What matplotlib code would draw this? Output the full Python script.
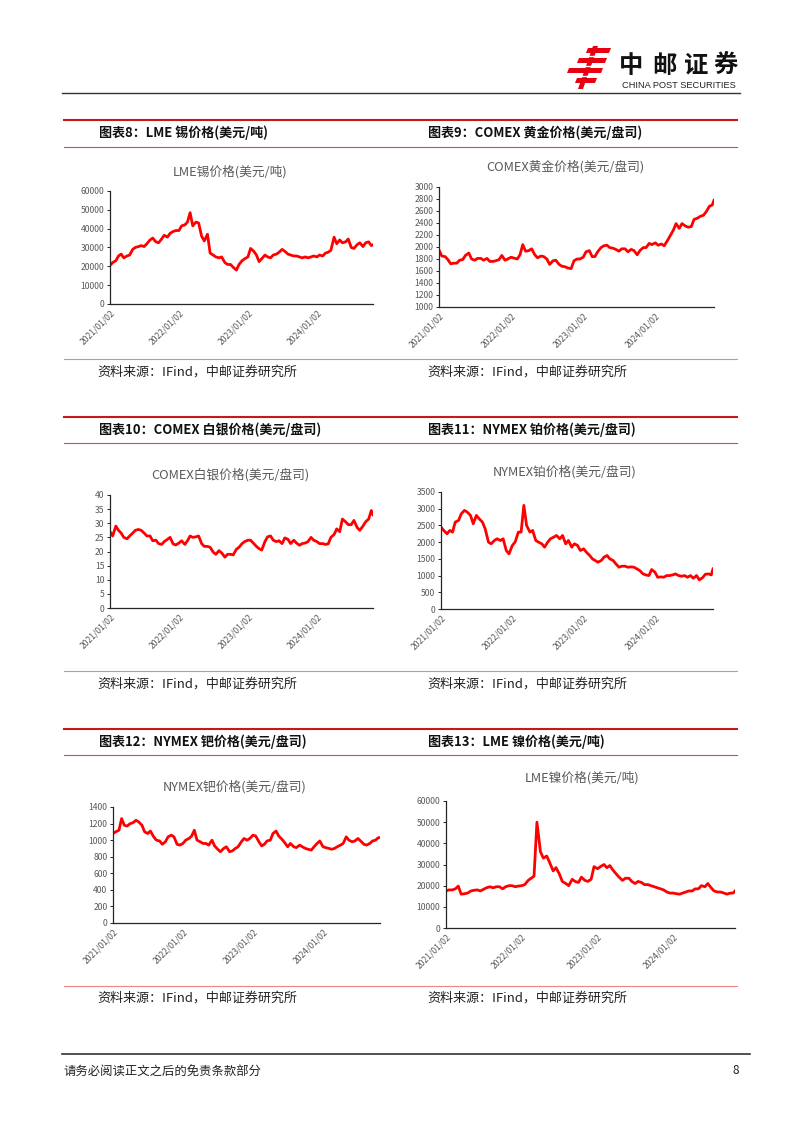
import numpy as np
import pandas as pd
import matplotlib
matplotlib.use('Agg')
import matplotlib.pyplot as plt
from matplotlib.lines import Line2D
from matplotlib.patches import Polygon

plt.rcParams['font.family'] = ['Noto Sans CJK SC', 'DejaVu Sans']

# semi-monthly sample dates, 2021/01 .. 2024/10, plus last trading day shown
dates = [f'{y}-{m:02d}-{d:02d}' for y in range(2021, 2025) for m in range(1, 13)
         for d in (2, 16) if not (y == 2024 and m > 10)] + ['2024-10-25']
tick_dates = ['2021-01-02', '2022-01-02', '2023-01-02', '2024-01-02']
tick_labels = ['2021/01/02', '2022/01/02', '2023/01/02', '2024/01/02']

# LME tin, USD/t
tin = ([20500, 22000, 23000, 25500, 26500, 24500, 25500, 26000, 29000, 30000, 30500, 31000,
        30500, 32000, 34000, 35000, 33000, 32500, 34500, 36500, 35500, 37500, 38500, 39000] +
       [39000, 41500, 42000, 43500, 48500, 41500, 43500, 43000, 36000, 33500, 37000, 27000,
        26000, 25000, 24500, 25000, 22000, 21000, 21000, 19500, 18000, 21000, 23000, 24000] +
       [25000, 29500, 28000, 26000, 22500, 24000, 26000, 25000, 24500, 26000, 26500, 27500,
        29000, 28000, 26500, 26000, 25500, 25500, 25000, 24500, 25000, 24500, 25000, 25500] +
       [25000, 26000, 25500, 27000, 27500, 28500, 35500, 32000, 34000, 32500, 33000, 34500,
        30000, 29500, 31500, 32500, 30500, 32500, 33000, 31000, 31500])

# COMEX gold, USD/oz
gold = ([1950, 1850, 1840, 1790, 1720, 1730, 1730, 1780, 1790, 1860, 1900, 1800,
         1780, 1810, 1810, 1780, 1810, 1760, 1760, 1770, 1790, 1860, 1780, 1800] +
        [1830, 1815, 1800, 1870, 2040, 1930, 1940, 1970, 1870, 1820, 1850, 1840,
         1800, 1710, 1770, 1780, 1710, 1680, 1670, 1650, 1640, 1770, 1800, 1800] +
        [1830, 1920, 1940, 1840, 1840, 1920, 1990, 2020, 2030, 1990, 1980, 1960,
         1930, 1970, 1970, 1920, 1960, 1940, 1870, 1940, 1990, 1990, 2060, 2040] +
        [2070, 2030, 2050, 2020, 2100, 2180, 2280, 2390, 2310, 2390, 2350, 2330,
         2340, 2460, 2480, 2510, 2530, 2590, 2680, 2700, 2780])

# COMEX silver, USD/oz
silver = ([27.0, 25.5, 29.0, 27.5, 26.5, 25.0, 24.5, 25.5, 26.5, 27.5, 27.8, 27.5,
           26.5, 25.5, 25.5, 23.8, 24.0, 22.8, 22.5, 23.5, 24.3, 25.0, 22.7, 22.3] +
          [23.0, 23.8, 22.5, 23.8, 25.5, 25.0, 25.2, 25.5, 22.8, 21.8, 21.8, 21.5,
           19.8, 19.0, 20.3, 19.5, 18.0, 19.0, 19.0, 18.8, 20.8, 21.5, 22.8, 23.5] +
          [24.0, 24.0, 22.8, 21.8, 21.0, 20.5, 23.5, 25.2, 25.5, 24.0, 23.5, 23.8,
           22.8, 24.8, 24.3, 22.8, 24.0, 23.0, 22.2, 22.8, 23.0, 23.5, 25.0, 24.0] +
          [23.5, 22.8, 22.8, 22.5, 22.7, 25.0, 26.0, 28.0, 27.0, 31.5, 30.5, 29.5,
           29.5, 31.0, 28.5, 27.5, 29.0, 30.5, 31.5, 34.5, 33.0])

# NYMEX 铂 (chart 11)
plat = ([2450, 2350, 2250, 2350, 2300, 2600, 2650, 2850, 2950, 2900, 2800, 2550,
         2800, 2700, 2600, 2400, 2000, 1950, 2050, 2100, 2050, 2100, 1750, 1650] +
        [1900, 2000, 2300, 2300, 3100, 2500, 2300, 2350, 2050, 2000, 1950, 1850,
         2000, 2100, 2150, 2200, 2100, 2200, 1950, 2050, 1850, 1950, 1900, 1750] +
        [1800, 1700, 1600, 1500, 1450, 1400, 1450, 1550, 1600, 1500, 1450, 1350,
         1250, 1280, 1280, 1250, 1260, 1250, 1200, 1150, 1050, 1020, 1000, 1180] +
        [1100, 950, 960, 950, 1000, 1000, 1020, 1050, 1000, 980, 1000, 950,
         1000, 920, 1000, 870, 940, 1040, 1050, 1020, 1200])

# NYMEX 钯 (chart 12)
pall = ([1080, 1100, 1120, 1260, 1180, 1170, 1200, 1210, 1240, 1220, 1180, 1100,
         1080, 1110, 1040, 1000, 990, 950, 980, 1040, 1060, 1040, 950, 940] +
        [960, 1000, 1020, 1050, 1120, 1000, 980, 960, 960, 940, 1000, 930,
         890, 860, 900, 920, 860, 870, 900, 920, 980, 1020, 1000, 1020] +
        [1060, 1050, 980, 930, 950, 990, 1000, 1080, 1110, 1050, 1010, 970,
         920, 960, 920, 910, 940, 920, 900, 890, 880, 920, 960, 990] +
        [920, 910, 900, 890, 900, 920, 940, 960, 1040, 1000, 980, 990,
         1020, 990, 950, 940, 960, 990, 1000, 1030, 1030])

# LME nickel, USD/t
nickel = ([17500, 18000, 18000, 18500, 19800, 16000, 16200, 16500, 17500, 17800, 18000, 17500,
           18300, 19000, 19500, 19000, 19500, 19500, 18500, 19500, 20000, 20000, 19500, 19800] +
          [20000, 20500, 22500, 23500, 24500, 50000, 36000, 33000, 34000, 31000, 27000, 28500,
           25500, 22000, 21000, 20000, 23000, 22000, 21500, 24000, 22500, 22000, 23000, 29000] +
          [28000, 29000, 30000, 28500, 29500, 27500, 25500, 24000, 22500, 23500, 23500, 22000,
           21000, 22000, 21500, 20500, 20500, 20000, 19500, 19000, 18500, 18000, 17000, 16500] +
          [16500, 16200, 16000, 16500, 17000, 17500, 17500, 18500, 18500, 20000, 19500, 21000,
           19000, 17500, 17000, 17000, 16500, 16000, 16500, 16500, 17500])

W, H = 802, 1133
fig = plt.figure(figsize=(W / 100, H / 100), dpi=100)
fig.patch.set_facecolor('white')


def fx(x):
    return x / W


def fy(y):
    return 1 - y / H


def hline(y, x0, x1, color, lw):
    fig.add_artist(Line2D([fx(x0), fx(x1)], [fy(y), fy(y)], color=color, lw=lw))


def ftext(x, y, s, **kw):
    fig.text(fx(x), fy(y), s, **kw)


# ---- header ----
hline(93, 62, 740, '#333333', 1.0)
for ch, cx in zip('中邮证券', [631, 664, 696, 726]):
    ftext(cx, 66, ch, fontsize=17.5, fontweight='heavy', color='#111111', ha='center', va='center')
ftext(679, 85, 'CHINA POST SECURITIES', fontsize=6.7, color='#222222', ha='center', va='center',
      family=['Liberation Sans', 'DejaVu Sans'])

lax = fig.add_axes([fx(566), fy(90), fx(612) - fx(566), fy(45) - fy(90)])
lax.set_xlim(0, 46)
lax.set_ylim(45, 0)
lax.axis('off')
logo_red = '#E60012'
for poly in [[(22, 3), (45, 3), (43, 8), (20, 8)],
             [(13, 13), (41, 13), (39, 18), (11, 18)],
             [(3, 23), (37, 23), (35, 28), (1, 28)],
             [(11, 33), (31, 33), (29, 38), (9, 38)],
             [(27, 1), (32, 1), (17, 44), (12, 44)]]:
    lax.add_patch(Polygon(poly, closed=True, color=logo_red, lw=0))
for yy in (10.5, 20.5, 30.5):
    lax.plot([14, 30], [yy, yy], color='white', lw=1.0)

# ---- section frames ----
red_top = '#C8161D'
red_mid = '#D9474D'
red_bot = '#E8868A'
rows = [(120, 147, 359, 133, 372), (417, 443, 671, 430, 684), (729, 755, 986, 742, 998)]
sec_titles = [('图表8：LME 锡价格(美元/吨)', '图表9：COMEX 黄金价格(美元/盘司)'),
              ('图表10：COMEX 白银价格(美元/盘司)', '图表11：NYMEX 铂价格(美元/盘司)'),
              ('图表12：NYMEX 钯价格(美元/盘司)', '图表13：LME 镍价格(美元/吨)')]
for (yt, ym, yb, ytitle, ysrc), (tl, tr) in zip(rows, sec_titles):
    hline(yt, 64, 737, red_top, 1.5)
    hline(ym, 64, 737, red_mid, 0.8)
    hline(yb, 64, 737, red_bot, 0.8)
    ftext(99, ytitle, tl, fontsize=9.4, fontweight='bold', color='#111111', va='center')
    ftext(428, ytitle, tr, fontsize=9.4, fontweight='bold', color='#111111', va='center')
    for sx in (97, 427):
        ftext(sx, ysrc, '资料来源：IFind，中邮证券研究所', fontsize=9.4, fontweight='light',
              color='#222222', va='center')

# ---- footer ----
hline(1054, 62, 750, '#333333', 1.2)
ftext(63, 1071, '请务必阅读正文之后的免责条款部分', fontsize=8.9, fontweight='light',
      color='#222222', va='center')
ftext(736, 1071, '8', fontsize=8.5, color='#222222', va='center', ha='center')

# ---- charts ----
x = pd.to_datetime(dates)
ticks = pd.to_datetime(tick_dates)
charts = [
    ((110, 191, 373, 304), 'LME锡价格(美元/吨)', (230, 172), tin, (0, 60000), np.arange(0, 60001, 10000)),
    ((439, 187, 714, 307), 'COMEX黄金价格(美元/盘司)', (565, 167), gold, (1000, 3000), np.arange(1000, 3001, 200)),
    ((110, 495, 373, 608), 'COMEX白银价格(美元/盘司)', (230, 475), silver, (0, 40), np.arange(0, 41, 5)),
    ((441, 492, 713, 609), 'NYMEX铂价格(美元/盘司)', (565, 472), plat, (0, 3500), np.arange(0, 3501, 500)),
    ((113, 807, 380, 923), 'NYMEX钯价格(美元/盘司)', (235, 787), pall, (0, 1400), np.arange(0, 1401, 200)),
    ((446, 801, 735, 928), 'LME镍价格(美元/吨)', (582, 778), nickel, (0, 60000), np.arange(0, 60001, 10000)),
]
grey = '#595959'
for (x0, y0, x1, y1), title, (tx, ty), vals, ylim, yt in charts:
    ax = fig.add_axes([fx(x0), fy(y1), fx(x1) - fx(x0), fy(y0) - fy(y1)])
    ax.plot(x, vals, color='#FF0000', lw=2.0, solid_joinstyle='round')
    ax.set_xlim(x[0], x[-1])
    ax.set_ylim(*ylim)
    ax.set_yticks(yt)
    ax.set_yticklabels([f'{v:g}' for v in yt])
    ax.set_xticks(ticks)
    ax.set_xticklabels(tick_labels, rotation=45, ha='right', rotation_mode='anchor')
    for s in ('top', 'right'):
        ax.spines[s].set_visible(False)
    for s in ('left', 'bottom'):
        ax.spines[s].set_color('#262626')
        ax.spines[s].set_linewidth(0.9)
    ax.tick_params(axis='y', labelsize=6.2, labelcolor=grey, length=2, width=0.6, pad=2)
    ax.tick_params(axis='x', labelsize=6.2, labelcolor=grey, length=0, pad=3)
    ftext(tx, ty, title, fontsize=9.2, color=grey, ha='center', va='center')

fig.savefig('out.png', dpi=100)
